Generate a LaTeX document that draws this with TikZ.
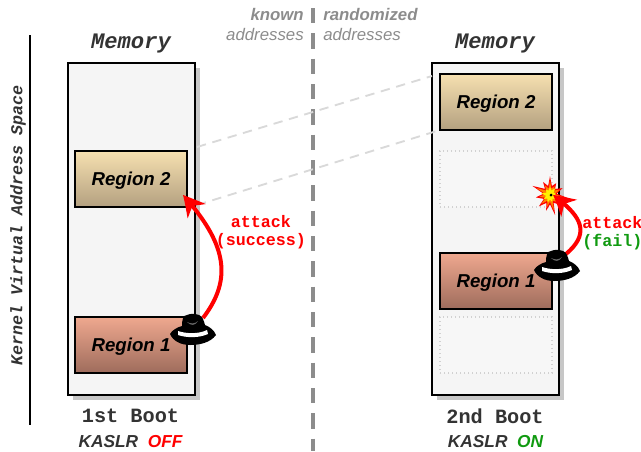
\documentclass[tikz,border=0pt]{standalone}
\usepackage{fontspec}
\setmainfont{Liberation Sans}
\setmonofont{Liberation Mono}
\usepackage{xcolor}
\usetikzlibrary{shapes.symbols, arrows.meta, bending}
\definecolor{capgray}{HTML}{8C8C8C}
\definecolor{textgray}{HTML}{333333}
\definecolor{okgreen}{HTML}{109A10}
\definecolor{sandtop}{HTML}{F6E0B0}
\definecolor{sandlow}{HTML}{B3A080}
\definecolor{rosetop}{HTML}{EFA88F}
\definecolor{roselow}{HTML}{9E6C5C}

\begin{document}
\begin{tikzpicture}[x=0.75pt, y=-0.75pt,
    memory/.style={draw=black, line width=1.3pt, fill=black!4, minimum width=95.25pt, minimum height=249pt, inner sep=0pt},
    memshadow/.style={fill=black!22, minimum width=95.25pt, minimum height=249pt, inner sep=0pt},
    regionbox/.style={draw=black, line width=1.1pt, minimum width=84pt, minimum height=42pt, inner sep=0pt, text height=12pt, text depth=2.5pt, font=\bfseries\itshape\fontsize{14}{16}\selectfont},
    regionyellow/.style={regionbox, top color=sandtop, bottom color=sandlow},
    regionred/.style={regionbox, top color=rosetop, bottom color=roselow},
    freebox/.style={draw=black!18, dotted, line width=1pt, fill=black!3, minimum width=84pt, minimum height=42pt, inner sep=0pt},
    heading/.style={font=\ttfamily\bfseries\itshape\fontsize{16.6}{20}\selectfont, text=textgray},
    bootlabel/.style={font=\ttfamily\bfseries\fontsize{15.2}{18}\selectfont, text=textgray},
    kaslr/.style={font=\bfseries\itshape\fontsize{13}{16}\selectfont, text=textgray},
    attacklabel/.style={font=\ttfamily\bfseries\fontsize{12.5}{13.5}\selectfont, align=center, inner sep=0pt},
    addrlabel/.style={font=\fontsize{12.6}{15}\selectfont, text=capgray, align=#1, inner sep=0pt},
    attackline/.style={-{Stealth[length=16pt, width=17pt, bend]}, red, line width=3pt},
    fadedline/.style={black!15, dash pattern=on 7pt off 5pt, line width=1.4pt},
    fedora/.pic={
        \fill[black] (-23,4) .. controls (-21,0) and (-15,-3) .. (-11,-4)
            .. controls (-11,-10) and (-10,-15) .. (-6,-15)
            .. controls (-2,-17) and (3,-16) .. (6,-15)
            .. controls (10,-14) and (11,-8) .. (12,-5)
            .. controls (17,-3) and (21,0) .. (23,5)
            .. controls (17,13) and (6,15) .. (-3,15)
            .. controls (-12,15) and (-20,11) .. (-23,4) -- cycle;
        \fill[white] (-15,1) .. controls (-6,4) and (6,4) .. (14,0)
            -- (15,4) .. controls (6,8) and (-6,8) .. (-15,5) -- cycle;
        \fill[black!60] (-6,-8) .. controls (-2,-6) and (2,-6) .. (5,-9)
            .. controls (2,-4) and (-2,-4) .. (-6,-8) -- cycle;
    }
    ]
    \useasboundingbox (0,0) rectangle (641,451);

    % left and divider
    \draw[black, line width=1.1pt] (30,35) -- (30,425);
    \draw[capgray, line width=3pt, dash pattern=on 11.5pt off 7.5pt] (313,8) -- (313,451);

    \node[rotate=90, heading, font=\ttfamily\bfseries\itshape\fontsize{12.5}{15}\selectfont] (kernel) at (18,225) {Kernel Virtual Address Space};

    % memories
    \node[memshadow] (shadowL) at (136.5,234) {};
    \node[memshadow] (shadowR) at (500.5,234) {};
    \node[memory] (memL) at (131.5,229) {};
    \node[memory] (memR) at (495.5,229) {};

    \node[heading] (titleL) at (131,44) {Memory};
    \node[heading] (titleR) at (495,44) {Memory};

    % regions
    \node[regionyellow] (reg2L) at (131,179) {Region 2};
    \node[regionred] (reg1L) at (131,345) {Region 1};
    \node[regionyellow] (reg2R) at (496,102) {Region 2};
    \node[freebox] (freeA) at (496,179) {};
    \node[regionred] (reg1R) at (496,281) {Region 1};
    \node[freebox] (freeB) at (496,345) {};

    \coordinate (lineA) at (197,147);
    \coordinate (lineB) at (197,205);
    \coordinate (lineC) at (432,76);
    \coordinate (lineD) at (440,130);
    \draw[fadedline] (lineA) -- (lineC);
    \draw[fadedline] (lineB) -- (lineD);

    % explosion
    \node[starburst, starburst points=11, starburst point height=10pt, minimum width=30pt, minimum height=34pt, inner sep=0pt, fill=red, draw=none] (blastA) at (550,195) {};
    \node[starburst, starburst points=11, starburst point height=8pt, minimum width=23pt, minimum height=26pt, inner sep=0pt, fill=orange] (blastB) at (550,195) {};
    \node[starburst, starburst points=9, starburst point height=4pt, minimum width=14pt, minimum height=15pt, inner sep=0pt, fill=yellow] (blastC) at (550,195) {};
    \node[circle, fill=black, inner sep=0.8pt] (blastD) at (551,195) {};

    % attacks
    \coordinate (startL) at (203,318);
    \coordinate (tipL) at (183,195);
    \coordinate (startR) at (566,254);
    \coordinate (tipR) at (553,195);
    \draw[attackline] (startL) .. controls (232,280) and (228,245) .. (tipL);
    \draw[attackline] (startR) .. controls (592,232) and (580,215) .. (tipR);
    \pic at (193,330) {fedora};
    \pic at (557,266) {fedora};

    \node[attacklabel, text=red] (attackL) at (261,232) {attack\\(success)};
    \node[attacklabel, text=red, anchor=north west] (attackR) at (582,216) {attack\\\textcolor{okgreen}{(fail)}};

    % bottom
    \node[bootlabel] (bootL) at (130.5,416) {1st Boot};
    \node[bootlabel] (bootR) at (495,416) {2nd Boot};
    \node[kaslr] (kaslrL) at (130.5,442) {KASLR\ \ \textcolor{red}{OFF}};
    \node[kaslr] (kaslrR) at (495.5,442) {KASLR\ \ \textcolor{okgreen}{ON}};

    % top
    \node[addrlabel=right, anchor=north east] (known) at (304,8) {\textbf{\textit{known}}\\\textit{addresses}};
    \node[addrlabel=left, anchor=north west] (random) at (323,8) {\textbf{\textit{randomized}}\\\textit{addresses}};
\end{tikzpicture}
\end{document}
